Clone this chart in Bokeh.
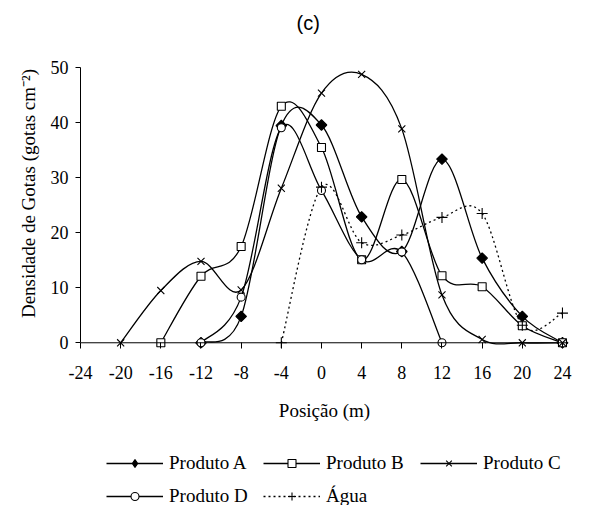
import numpy as np
from bokeh.plotting import figure
from bokeh.layouts import column
from bokeh.models import (ColumnDataSource, FixedTicker, Legend, LegendItem, Range1d, Span)
from bokeh.embed import file_html
from bokeh.resources import INLINE

# ---- data ----
positions = [-24, -20, -16, -12, -8, -4, 0, 4, 8, 12, 16, 20, 24]
produto_a = [None, None, None, 0, 4.8, 39.5, 39.6, 22.9, 16.6, 33.4, 15.4, 4.8, 0]
produto_b = [None, None, 0, 12.1, 17.5, 43.0, 35.5, 15.1, 29.7, 12.2, 10.2, 3.1, 0]
produto_c = [None, 0, 9.5, 14.8, 9.6, 28.1, 45.4, 48.8, 38.9, 8.7, 0.6, 0, 0]
produto_d = [None, None, None, 0, 8.3, 39.1, 27.7, 15.1, 16.5, 0, None, None, None]
agua = [None, None, None, None, None, 0, 28.3, 18.2, 19.6, 22.8, 23.5, 3.2, 5.4]
series_names = ["Produto A", "Produto B", "Produto C", "Produto D", "Água"]
y_ticks = [0, 10, 20, 30, 40, 50]

SERIF = "Liberation Serif"

def valid(xs, ys):
    pts = [(x, y) for x, y in zip(xs, ys) if y is not None]
    return [p[0] for p in pts], [p[1] for p in pts]

def smooth(xs, ys):
    # Catmull-Rom -> cubic Bezier (like a spreadsheet "smoothed line")
    n = len(xs)
    d = dict(x0=[], y0=[], x1=[], y1=[], cx0=[], cy0=[], cx1=[], cy1=[])
    for i in range(n - 1):
        i0, i3 = max(i - 1, 0), min(i + 2, n - 1)
        d["x0"].append(xs[i]); d["y0"].append(ys[i])
        d["x1"].append(xs[i + 1]); d["y1"].append(ys[i + 1])
        d["cx0"].append(xs[i] + (xs[i + 1] - xs[i0]) / 6)
        d["cy0"].append(ys[i] + (ys[i + 1] - ys[i0]) / 6)
        d["cx1"].append(xs[i + 1] - (xs[i3] - xs[i]) / 6)
        d["cy1"].append(ys[i + 1] - (ys[i3] - ys[i]) / 6)
    return ColumnDataSource(d)

p = figure(width=590, height=440, output_backend="svg", toolbar_location=None,
           x_range=Range1d(-24, 24.6), y_range=Range1d(-1.04, 55.33),
           min_border_left=80, min_border_right=22, min_border_top=38,
           min_border_bottom=92, background_fill_color="white",
           border_fill_color="white", title="(c)")
p.outline_line_color = None
p.grid.visible = False
p.title.align = "left"
p.title.offset = 216
p.title.standoff = 10
p.title.text_font = "Liberation Sans"
p.title.text_font_size = "20px"
p.title.text_font_style = "normal"
p.title.text_color = "black"

p.add_layout(Span(location=0, dimension="width", line_color="black", line_width=1))

styles = [
    dict(marker="square", legend_marker="diamond", angle=np.pi / 4, size=7.5, fill_color="black", dash="solid"),
    dict(marker="square", legend_marker="square", angle=0, size=8, fill_color="white", dash="solid"),
    dict(marker="x", legend_marker="x", angle=0, size=10, fill_color="black", dash="solid"),
    dict(marker="circle", legend_marker="circle", angle=0, size=8, fill_color="white", dash="solid"),
    dict(marker="cross", legend_marker="cross", angle=0, size=11, fill_color="black", dash="2 3"),
]
all_series = [produto_a, produto_b, produto_c, produto_d, agua]

for ys_, st in zip(all_series, styles):
    xs, ys = valid(positions, ys_)
    p.bezier(x0="x0", y0="y0", x1="x1", y1="y1", cx0="cx0", cy0="cy0",
             cx1="cx1", cy1="cy1", source=smooth(xs, ys), line_color="black",
             line_width=1.3, line_dash=st["dash"])
for ys_, st in zip(all_series, styles):
    xs, ys = valid(positions, ys_)
    p.scatter(xs, ys, marker=st["marker"], angle=st["angle"], size=st["size"],
              fill_color=st["fill_color"], line_color="black", line_width=1.1)

# axes
xa = p.xaxis[0]
xa.ticker = FixedTicker(ticks=positions)
xa.major_label_overrides = {v: str(v) for v in positions}
xa.axis_line_color = None
xa.axis_label = "Posição (m)"
xa.major_tick_in = 6
xa.major_tick_out = 0
ya = p.yaxis[0]
ya.ticker = FixedTicker(ticks=y_ticks)
ya.bounds = (0, 50)
ya.axis_line_color = "black"
ya.major_tick_in = 0
ya.major_tick_out = 5
ya.axis_label = "Densidade de Gotas (gotas cm⁻²)"
for ax in (xa, ya):
    ax.major_tick_line_color = "black"
    ax.minor_tick_line_color = None
    ax.major_label_text_font = SERIF
    ax.major_label_text_font_size = "18px"
    ax.major_label_text_color = "black"
    ax.axis_label_text_font = SERIF
    ax.axis_label_text_font_size = "19px"
    ax.axis_label_text_font_style = "normal"
    ax.axis_label_text_color = "black"
xa.major_label_standoff = 17
xa.axis_label_standoff = 18
ya.major_label_standoff = 7
ya.axis_label_standoff = 9

# legend in its own strip below the chart
pl = figure(width=590, height=65, output_backend="svg", toolbar_location=None,
            x_axis_type=None, y_axis_type=None, min_border=0,
            x_range=Range1d(0, 1), y_range=Range1d(0, 1),
            background_fill_color="white", border_fill_color="white")
pl.outline_line_color = None
pl.grid.visible = False
items = []
for st, name in zip(styles, series_names):
    # one point far outside the strip's visible range: only the legend glyph shows
    lr = pl.line([10, 11], [10, 10], line_color="black", line_width=1.3, line_dash=st["dash"])
    sr = pl.scatter([10], [10], marker=st["legend_marker"], size=st["size"],
                    fill_color=st["fill_color"], line_color="black", line_width=1.1)
    items.append(LegendItem(label=name, renderers=[lr, sr]))
legend = Legend(items=items, orientation="horizontal", ncols=3, location=(26, -2),
                glyph_width=57, glyph_height=20, label_height=20, label_width=83,
                label_standoff=6, spacing=11, padding=0, margin=0,
                border_line_color=None, background_fill_alpha=0,
                label_text_font=SERIF, label_text_font_size="19px",
                label_text_color="black")
pl.add_layout(legend)

open("out.html", "w").write(file_html(column(p, pl), INLINE))
